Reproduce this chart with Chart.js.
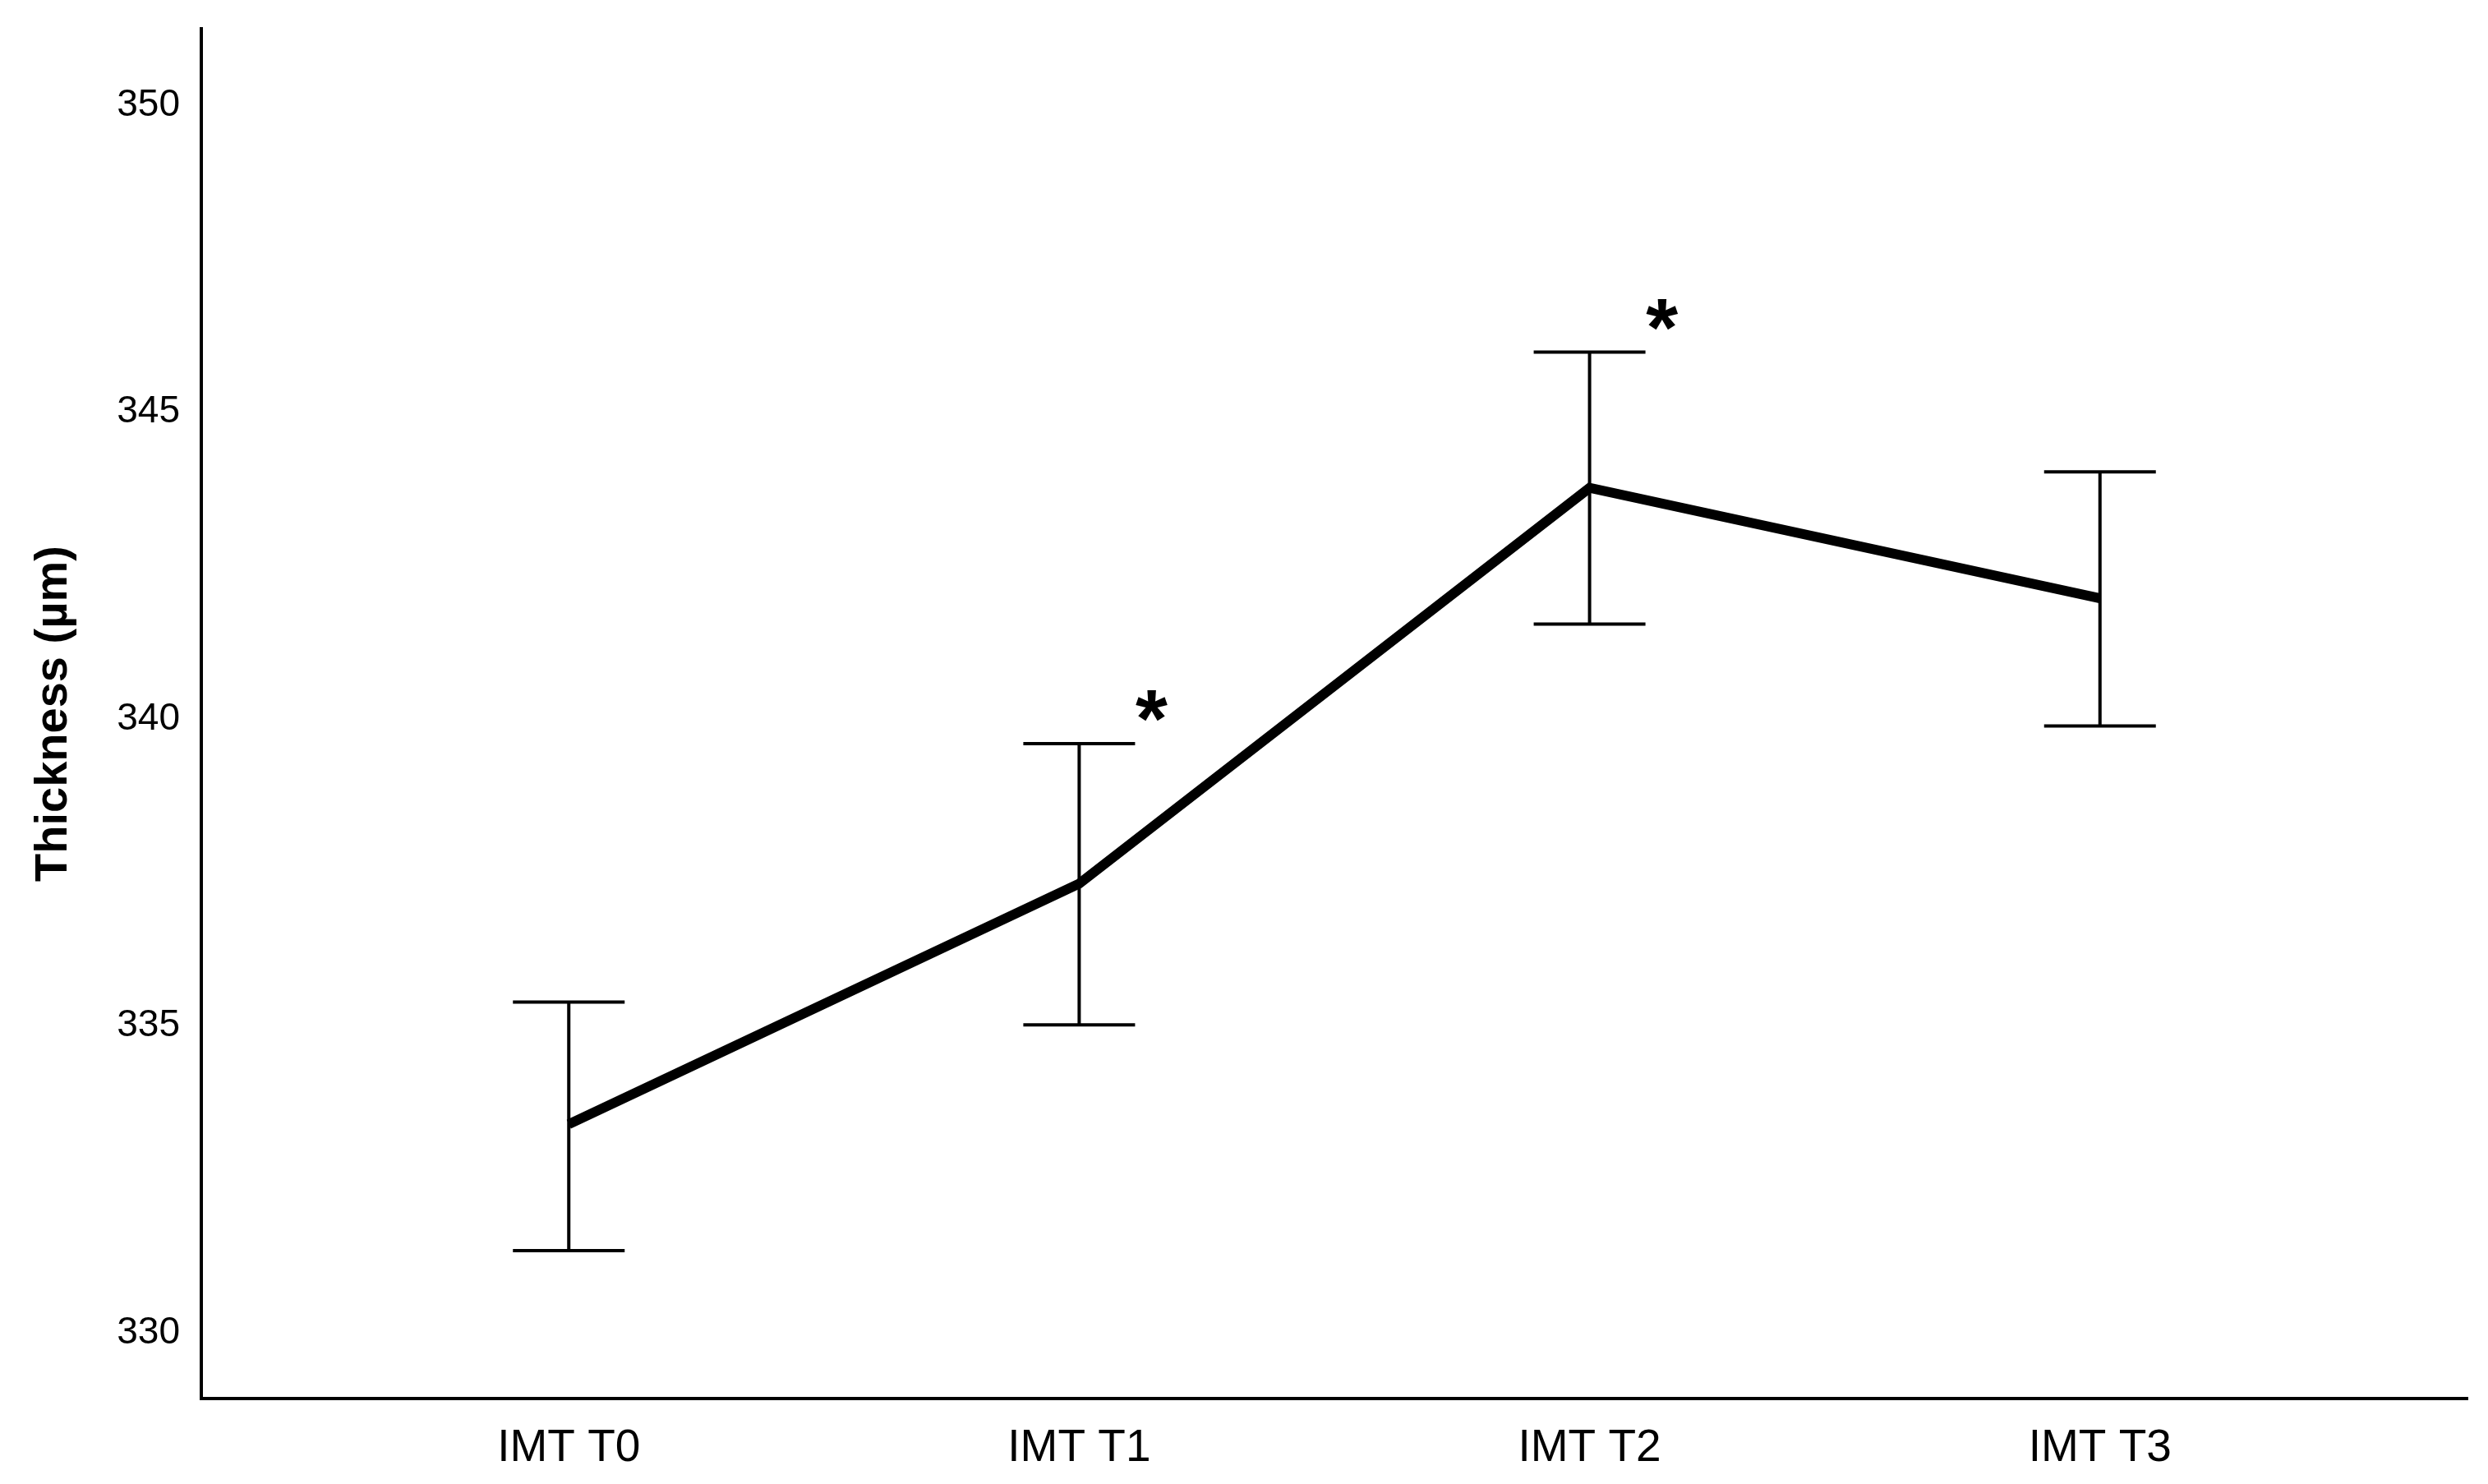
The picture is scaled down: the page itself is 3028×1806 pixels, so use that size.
<!DOCTYPE html>
<html>
<head>
<meta charset="utf-8">
<script src="https://cdn.jsdelivr.net/npm/chart.js@4.4.0/dist/chart.umd.min.js"></script>
<style>
  html, body { margin: 0; padding: 0; background: #fff; }
  #wrap { width: 3028px; height: 1806px; }
</style>
</head>
<body>
<div id="wrap"><canvas id="c"></canvas></div>
<script>
const categories = ['IMT T0', 'IMT T1', 'IMT T2', 'IMT T3'];
const means = [333.40, 337.32, 343.77, 341.97];
const upper = [335.39, 339.60, 345.98, 344.03];
const lower = [331.34, 335.02, 341.55, 339.89];
const significant = [false, true, true, false];
const yTicks = [330, 335, 340, 345, 350];

const FONT = '"Liberation Sans", Arial, sans-serif';

// error bars + asterisks, placed through the chart scales
const errorBars = {
  id: 'errorBars',
  afterDatasetsDraw(chart) {
    const { ctx, scales: { x, y } } = chart;
    const cap = 68;
    ctx.save();
    ctx.strokeStyle = '#000';
    ctx.lineWidth = 4;
    means.forEach((m, i) => {
      const px = x.getPixelForValue(i);
      const top = y.getPixelForValue(upper[i]);
      const bot = y.getPixelForValue(lower[i]);
      ctx.beginPath();
      ctx.moveTo(px, top); ctx.lineTo(px, bot);
      ctx.moveTo(px - cap, top); ctx.lineTo(px + cap, top);
      ctx.moveTo(px - cap, bot); ctx.lineTo(px + cap, bot);
      ctx.stroke();
      if (significant[i]) {
        ctx.fillStyle = '#000';
        ctx.font = 'bold 100px ' + FONT;
        ctx.textAlign = 'center';
        ctx.textBaseline = 'alphabetic';
        ctx.fillText('*', px + 88, top - 51 + 0.55 * 100);
      }
    });
    ctx.restore();
  }
};

new Chart(document.getElementById('c'), {
  type: 'line',
  data: {
    datasets: [{
      data: means.map((v, i) => ({ x: i, y: v })),
      borderColor: '#000',
      borderWidth: 12,
      pointRadius: 0,
      tension: 0,
      fill: false
    }]
  },
  options: {
    responsive: true,
    maintainAspectRatio: false,
    animation: false,
    layout: { padding: { top: 35, right: 25, left: 0, bottom: 0 } },
    plugins: { legend: { display: false }, tooltip: { enabled: false } },
    scales: {
      x: {
        type: 'linear',
        min: -0.72,
        max: 3.72,
        grid: { display: false, drawTicks: false },
        border: { display: true, color: '#000', width: 4 },
        afterBuildTicks: s => { s.ticks = categories.map((_, i) => ({ value: i })); },
        afterFit: s => { s.height = 104; s.paddingLeft = 0; s.paddingRight = 0; },
        ticks: {
          color: '#000',
          padding: 28,
          autoSkip: false,
          maxRotation: 0,
          font: { family: FONT, size: 55 },
          callback: v => categories[v]
        }
      },
      y: {
        min: 328.93,
        max: 351.25,
        grid: { display: false, drawTicks: false },
        border: { display: true, color: '#000', width: 4 },
        afterBuildTicks: s => { s.ticks = yTicks.map(v => ({ value: v })); },
        afterFit: s => { s.width = 245; s.paddingTop = 0; s.paddingBottom = 0; },
        ticks: {
          color: '#000',
          padding: 26,
          font: { family: FONT, size: 46 }
        },
        title: {
          display: true,
          text: 'Thickness (µm)',
          color: '#000',
          padding: { top: 32, bottom: 0 },
          font: { family: FONT, size: 56, weight: 'bold' }
        }
      }
    }
  },
  plugins: [errorBars]
});
</script>
</body>
</html>
